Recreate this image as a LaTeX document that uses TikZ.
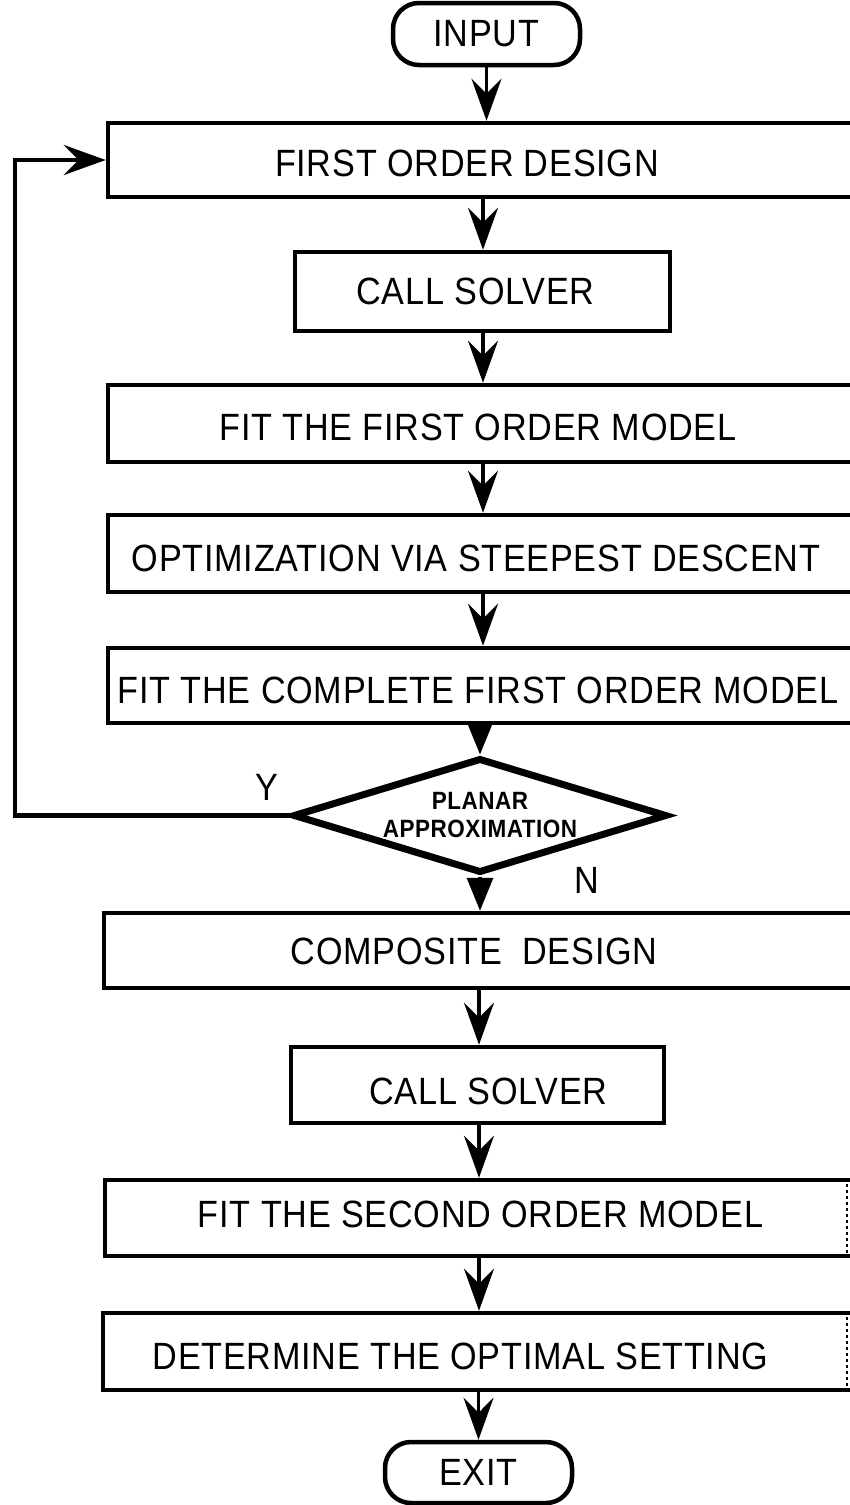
\documentclass[tikz,border=0pt]{standalone}
\usepackage{fontspec}
\setmainfont{Liberation Sans}[FakeStretch=0.9,LetterSpace=2]
\usetikzlibrary{arrows.meta,shapes.geometric}
\begin{document}
\begin{tikzpicture}[x=1pt,y=-1pt,
  txt/.style={font=\fontsize{38}{42}\selectfont, inner sep=0pt},
  boxs/.style={draw, line width=4.5pt, rectangle, inner sep=0pt},
  term/.style={draw, line width=4.5pt, rectangle, rounded corners=26pt, inner sep=0pt, font=\fontsize{38}{42}\selectfont},
  dec/.style={draw, line width=7pt, diamond, aspect=3.25, inner sep=0pt, font=\bfseries\fontsize{25}{28}\selectfont, align=center},
  arr/.style={line width=3.2pt, -{Stealth[length=42pt,width=30pt,inset=15pt]}},
  tri/.style={line width=3.2pt, -{Triangle[length=33pt,width=26pt]}},
  loopline/.style={line width=4.5pt, line join=miter, -{Stealth[length=42pt,width=30pt,inset=15pt]}},
  faintedge/.style={line width=1.5pt, dashed}
]
\path[fill=white,use as bounding box] (0,0) rectangle (850,1505);
\clip (0,0) rectangle (850,1505);

\coordinate (sA) at (483,0);
\coordinate (sB) at (479,0);
\coordinate (lc) at (15,160);
\coordinate (ex) at (847,0);

\node[term, minimum width=187pt, minimum height=62pt] (inp) at (486.5,34) {INPUT};
\node[boxs, minimum width=762pt, minimum height=74pt,
      label={[txt,xshift=-22pt,yshift=-3pt]center:FIRST ORDER DESIGN}] (fod) at (489,160) {};
\node[boxs, minimum width=375pt, minimum height=79pt,
      label={[txt,xshift=-7pt]center:CALL SOLVER}] (cs1) at (482.5,291.5) {};
\node[boxs, minimum width=762pt, minimum height=77pt,
      label={[txt,xshift=-11pt,yshift=-4pt]center:FIT THE FIRST ORDER MODEL}] (ffom) at (489,423.5) {};
\node[boxs, minimum width=762pt, minimum height=77pt,
      label={[txt,xshift=-13pt,yshift=-5pt]center:OPTIMIZATION VIA STEEPEST DESCENT}] (opt) at (489,553.5) {};
\node[boxs, minimum width=762pt, minimum height=75pt,
      label={[txt,xshift=-11pt,yshift=-5pt]center:FIT THE COMPLETE FIRST ORDER MODEL}] (fcfom) at (489,685.5) {};
\node[dec, minimum width=374pt, minimum height=115pt] (dia) at (480,815.5) {PLANAR\\APPROXIMATION};
\node[txt] (ylab) at (267,787) {Y};
\node[txt] (nlab) at (587,880) {N};
\node[boxs, minimum width=766pt, minimum height=75pt,
      label={[txt,xshift=-13pt,yshift=-1pt]center:COMPOSITE\ \ DESIGN}] (comp) at (487,950.5) {};
\node[boxs, minimum width=373pt, minimum height=76pt,
      label={[txt,xshift=11pt,yshift=-6pt]center:CALL SOLVER}] (cs2) at (477.5,1085) {};
\node[boxs, minimum width=765pt, minimum height=76pt,
      label={[txt,xshift=-7pt,yshift=4pt]center:FIT THE SECOND ORDER MODEL}] (fsom) at (487.5,1218) {};
\node[boxs, minimum width=767pt, minimum height=77pt,
      label={[txt,xshift=-26pt,yshift=-5pt]center:DETERMINE THE OPTIMAL SETTING}] (dos) at (486.5,1351.5) {};
\node[term, minimum width=187pt, minimum height=61pt] (exit) at (478.5,1472.5) {EXIT};

% faint right edges of the two lower boxes
\draw[faintedge] (fsom.north -| ex) -- (fsom.south -| ex);
\draw[faintedge] (dos.north -| ex) -- (dos.south -| ex);

% connectors
\draw[arr] (inp.south) -- (inp.south |- fod.north);
\draw[arr] (fod.south -| sA) -- (cs1.north -| sA);
\draw[arr] (cs1.south -| sA) -- (ffom.north -| sA);
\draw[arr] (ffom.south -| sA) -- (opt.north -| sA);
\draw[arr] (opt.south -| sA) -- (fcfom.north -| sA);
\draw[tri] (dia.north |- fcfom.south) -- (dia.north);
\draw[tri] (dia.south) -- (dia.south |- comp.north);
\draw[arr] (comp.south -| sB) -- (cs2.north -| sB);
\draw[arr] (cs2.south -| sB) -- (fsom.north -| sB);
\draw[arr] (fsom.south -| sB) -- (dos.north -| sB);
\draw[arr] (exit.north |- dos.south) -- (exit.north);
\draw[loopline] (dia.west) -| (lc) -- (fod.west);
\end{tikzpicture}
\end{document}
